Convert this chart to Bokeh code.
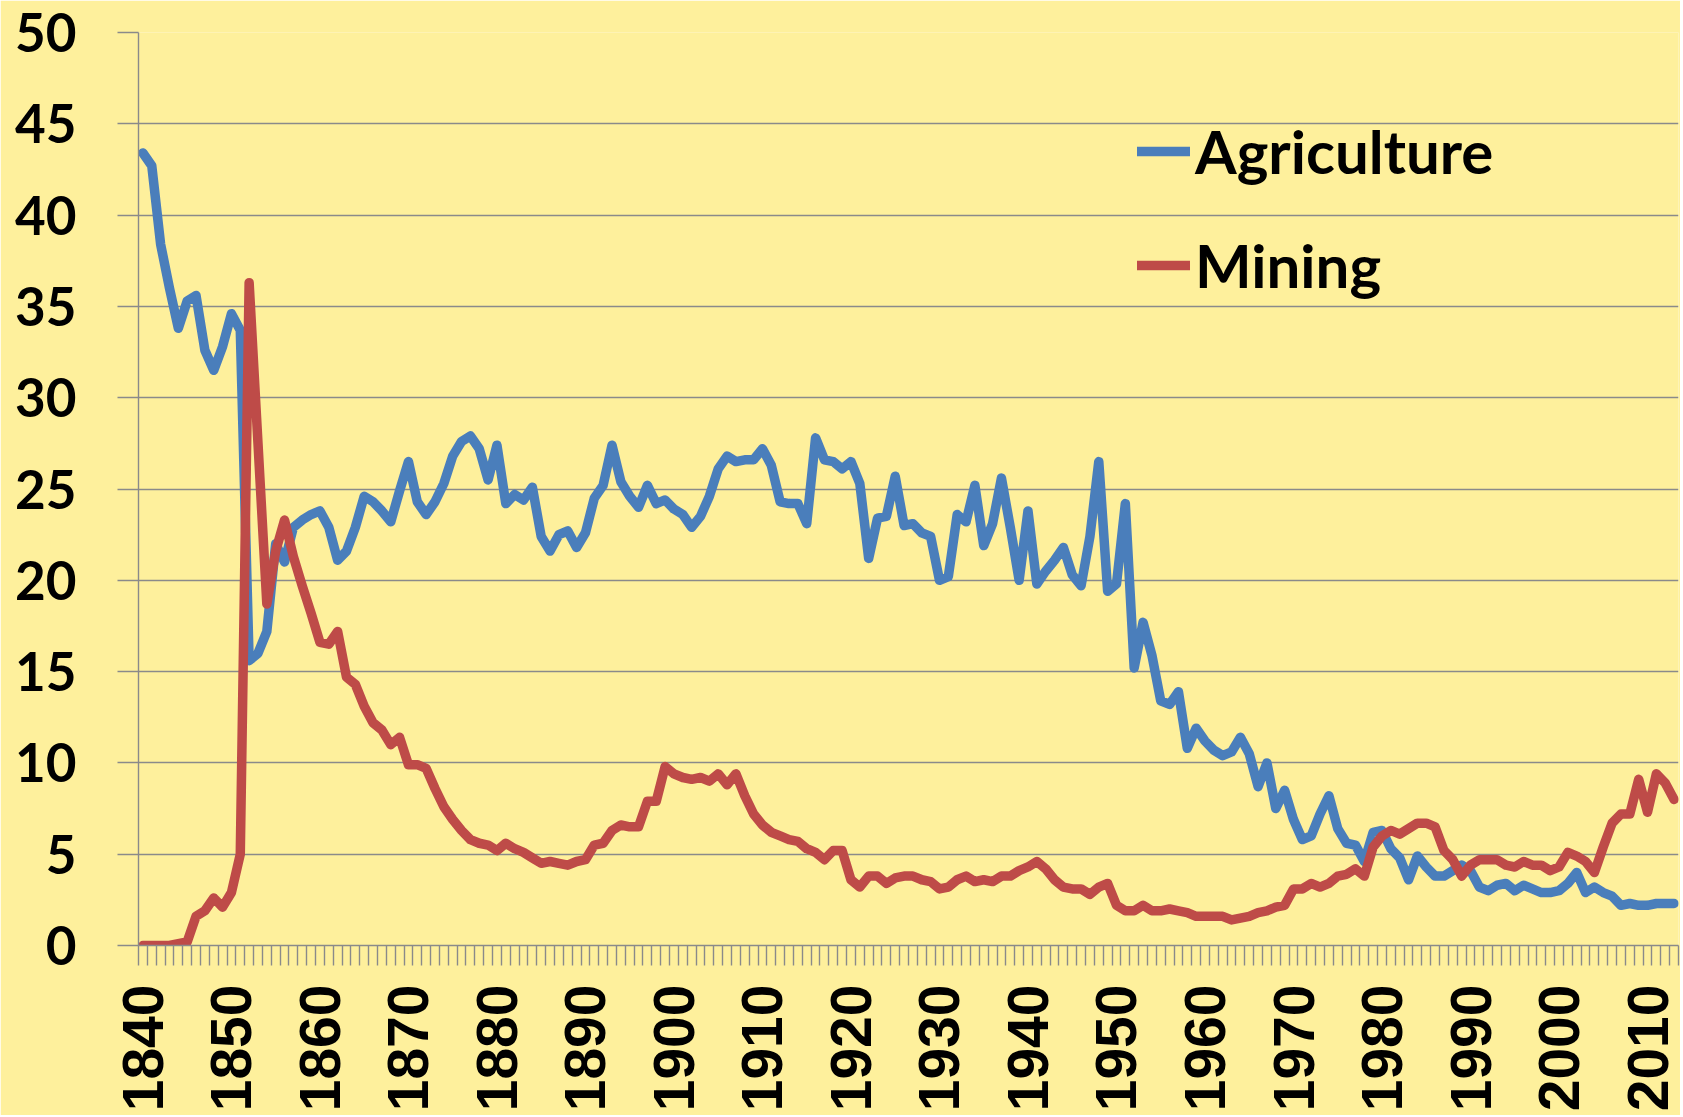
import math
from bokeh.plotting import figure
from bokeh.models import (ColumnDataSource, FixedTicker, Range1d, Legend, LegendItem)
from bokeh.embed import file_html
from bokeh.resources import INLINE

# ---------------- data ----------------
years = list(range(1840, 2014))

agriculture = [
    43.4, 42.7, 38.4, 36.0, 33.8, 35.3, 35.6, 32.6, 31.5, 32.8,   # 1840s
    34.6, 33.7, 15.6, 16.0, 17.2, 22.0, 21.0, 22.9, 23.3, 23.6,   # 1850s
    23.8, 22.9, 21.1, 21.6, 22.9, 24.6, 24.3, 23.8, 23.2, 24.9,   # 1860s
    26.5, 24.3, 23.6, 24.3, 25.3, 26.8, 27.6, 27.9, 27.2, 25.5,   # 1870s
    27.4, 24.2, 24.7, 24.4, 25.1, 22.4, 21.6, 22.5, 22.7, 21.8,   # 1880s
    22.6, 24.5, 25.2, 27.4, 25.4, 24.6, 24.0, 25.2, 24.2, 24.4,   # 1890s
    23.9, 23.6, 22.9, 23.5, 24.6, 26.1, 26.8, 26.5, 26.6, 26.6,   # 1900s
    27.2, 26.3, 24.3, 24.2, 24.2, 23.1, 27.8, 26.6, 26.5, 26.1,   # 1910s
    26.5, 25.3, 21.2, 23.4, 23.5, 25.7, 23.0, 23.1, 22.6, 22.4,   # 1920s
    20.0, 20.2, 23.6, 23.2, 25.2, 21.9, 23.1, 25.6, 22.9, 20.0,   # 1930s
    23.8, 19.8, 20.5, 21.1, 21.8, 20.3, 19.7, 22.4, 26.5, 19.4,   # 1940s
    19.8, 24.2, 15.2, 17.7, 15.9, 13.4, 13.2, 13.9, 10.8, 11.9,   # 1950s
    11.2, 10.7, 10.4, 10.6, 11.4, 10.5, 8.7, 10.0, 7.5, 8.5,      # 1960s
    6.9, 5.8, 6.0, 7.2, 8.2, 6.4, 5.6, 5.5, 4.6, 6.2,             # 1970s
    6.3, 5.3, 4.8, 3.6, 4.9, 4.3, 3.8, 3.8, 4.1, 4.4,             # 1980s
    4.1, 3.2, 3.0, 3.3, 3.4, 3.0, 3.3, 3.1, 2.9, 2.9,             # 1990s
    3.0, 3.4, 4.0, 2.9, 3.2, 2.9, 2.7, 2.2, 2.3, 2.2,             # 2000s
    2.2, 2.3, 2.3, 2.3,                                           # 2010-2013
]

mining = [
    0.0, 0.0, 0.0, 0.0, 0.1, 0.2, 1.6, 1.9, 2.6, 2.1,             # 1840s
    2.9, 5.0, 36.3, 27.5, 18.7, 21.6, 23.3, 21.3, 19.7, 18.2,     # 1850s
    16.6, 16.5, 17.2, 14.7, 14.3, 13.1, 12.2, 11.8, 11.0, 11.4,   # 1860s
    9.9, 9.9, 9.7, 8.6, 7.6, 6.9, 6.3, 5.8, 5.6, 5.5,             # 1870s
    5.2, 5.6, 5.3, 5.1, 4.8, 4.5, 4.6, 4.5, 4.4, 4.6,             # 1880s
    4.7, 5.5, 5.6, 6.3, 6.6, 6.5, 6.5, 7.9, 7.9, 9.8,             # 1890s
    9.4, 9.2, 9.1, 9.2, 9.0, 9.4, 8.8, 9.4, 8.2, 7.2,             # 1900s
    6.6, 6.2, 6.0, 5.8, 5.7, 5.3, 5.1, 4.7, 5.2, 5.2,             # 1910s
    3.6, 3.2, 3.8, 3.8, 3.4, 3.7, 3.8, 3.8, 3.6, 3.5,             # 1920s
    3.1, 3.2, 3.6, 3.8, 3.5, 3.6, 3.5, 3.8, 3.8, 4.1,             # 1930s
    4.3, 4.6, 4.2, 3.6, 3.2, 3.1, 3.1, 2.8, 3.2, 3.4,             # 1940s
    2.2, 1.9, 1.9, 2.2, 1.9, 1.9, 2.0, 1.9, 1.8, 1.6,             # 1950s
    1.6, 1.6, 1.6, 1.4, 1.5, 1.6, 1.8, 1.9, 2.1, 2.2,             # 1960s
    3.1, 3.1, 3.4, 3.2, 3.4, 3.8, 3.9, 4.2, 3.8, 5.4,             # 1970s
    6.0, 6.3, 6.1, 6.4, 6.7, 6.7, 6.5, 5.2, 4.7, 3.8,             # 1980s
    4.4, 4.7, 4.7, 4.7, 4.4, 4.3, 4.6, 4.4, 4.4, 4.1,             # 1990s
    4.3, 5.1, 4.9, 4.6, 4.0, 5.4, 6.7, 7.2, 7.2, 9.1,             # 2000s
    7.3, 9.4, 8.9, 8.0,                                           # 2010-2013
]

x_tick_years = [1840, 1850, 1860, 1870, 1880, 1890, 1900, 1910, 1920,
                1930, 1940, 1950, 1960, 1970, 1980, 1990, 2000, 2010]
x_tick_labels = [str(y) for y in x_tick_years]
y_ticks = [0, 5, 10, 15, 20, 25, 30, 35, 40, 45, 50]
series_names = ["Agriculture", "Mining"]

# ---------------- style ----------------
BG = "#FEF09C"
BLUE = "#4A7EBB"
RED = "#BE4B48"
GRID = "#8A8A8A"

source = ColumnDataSource(dict(year=years, agri=agriculture, mine=mining))

p = figure(width=1680, height=1115, output_backend="svg", toolbar_location=None,
           x_range=Range1d(years[0] - 0.5, years[-1] + 0.5),
           y_range=Range1d(0, 50),
           min_border_left=138, min_border_top=32, min_border_right=2,
           min_border_bottom=170)

p.background_fill_color = BG
p.border_fill_color = BG
p.outline_line_color = None

r_agri = p.line("year", "agri", source=source, line_color=BLUE, line_width=9.5,
                line_join="round", line_cap="round")
r_mine = p.line("year", "mine", source=source, line_color=RED, line_width=9.5,
                line_join="round", line_cap="round")

# grid
p.xgrid.grid_line_color = None
p.ygrid.ticker = FixedTicker(ticks=y_ticks)
p.ygrid.grid_line_color = GRID
p.ygrid.grid_line_width = 1.4

# y axis
ya = p.yaxis[0]
ya.ticker = FixedTicker(ticks=y_ticks)
ya.axis_line_color = GRID
ya.axis_line_width = 1.4
ya.major_tick_line_color = GRID
ya.major_tick_line_width = 1.4
ya.major_tick_out = 21
ya.major_tick_in = 0
ya.minor_tick_line_color = None
ya.major_label_text_font = "Lato"
ya.major_label_text_font_style = "bold"
ya.major_label_text_font_size = "53px"
ya.major_label_text_color = "black"
ya.major_label_standoff = 41

# x axis: labels at decade centres, small ticks at every category boundary
xa = p.xaxis[0]
boundaries = [y + 0.5 for y in years[:-1]] + [years[0] - 0.5, years[-1] + 0.5]
xa.ticker = FixedTicker(ticks=x_tick_years, minor_ticks=sorted(boundaries))
xa.major_label_overrides = {y: s for y, s in zip(x_tick_years, x_tick_labels)}
xa.axis_line_color = GRID
xa.axis_line_width = 1.4
xa.major_tick_out = 0
xa.major_tick_in = 0
xa.major_tick_line_color = None
xa.minor_tick_line_color = GRID
xa.minor_tick_line_width = 1.4
xa.minor_tick_out = 20
xa.minor_tick_in = 0
xa.major_label_orientation = math.pi / 2
xa.major_label_text_font = "Liberation Sans"
xa.major_label_text_font_style = "bold"
xa.major_label_text_font_size = "57px"
xa.major_label_text_color = "black"
xa.major_label_standoff = 19

legend = Legend(items=[LegendItem(label=series_names[0], renderers=[r_agri]),
                       LegendItem(label=series_names[1], renderers=[r_mine])],
                location=(999, 644), orientation="vertical",
                background_fill_alpha=0, border_line_alpha=0,
                padding=0, margin=0, spacing=42,
                glyph_width=53, glyph_height=20, label_standoff=5,
                label_text_font="Lato", label_text_font_style="bold",
                label_text_font_size="60px", label_text_color="black")
p.add_layout(legend)

open("out.html", "w").write(file_html(p, INLINE))
